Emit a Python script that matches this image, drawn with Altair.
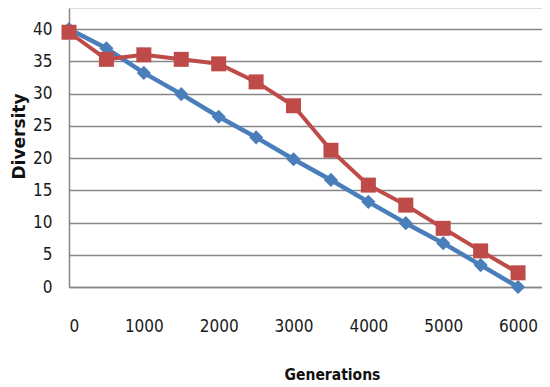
import altair as alt
import pandas as pd

generations = [0, 500, 1000, 1500, 2000, 2500, 3000, 3500, 4000, 4500, 5000, 5500, 6000]
series_a = [40.0, 37.0, 33.2, 29.9, 26.4, 23.2, 19.8, 16.6, 13.2, 9.9, 6.8, 3.4, 0.0]
series_b = [39.5, 35.3, 36.0, 35.3, 34.6, 31.8, 28.1, 21.2, 15.8, 12.7, 9.1, 5.6, 2.2]
names = ["Series A", "Series B"]
colors = ["#4A7EBB", "#BE4B48"]
shapes = ["diamond", "square"]
x_ticks = [0, 1000, 2000, 3000, 4000, 5000, 6000]
y_ticks = [0, 5, 10, 15, 20, 25, 30, 35, 40]

rows = []
for i, g in enumerate(generations):
    rows.append({"Generations": g, "Diversity": series_a[i], "series": names[0]})
for i, g in enumerate(generations):
    rows.append({"Generations": g, "Diversity": series_b[i], "series": names[1]})
df = pd.DataFrame(rows)

LF = "DejaVu Sans Condensed"

x = alt.X("Generations:Q",
          scale=alt.Scale(domain=[0, 6320], nice=False, zero=False),
          axis=alt.Axis(values=x_ticks, format="d", grid=False, ticks=False, labelPadding=31,
                        labelFont=LF, labelFontSize=17, labelColor="#1a1a1a",
                        domainColor="#868686", domainWidth=1.5,
                        title="Generations", titleFont=LF, titleFontSize=15.5,
                        titleFontWeight="bold", titleColor="#111111",
                        titleX=263, titleY=92, titleAlign="center",
                        titleBaseline="alphabetic"))
y = alt.Y("Diversity:Q",
          scale=alt.Scale(domain=[0, 43.26], nice=False),
          axis=alt.Axis(values=y_ticks, grid=True, gridColor="#868686", gridWidth=1.5,
                        ticks=False, labelPadding=17,
                        labelFont=LF, labelFontSize=17, labelColor="#1a1a1a",
                        domainColor="#868686", domainWidth=1.5,
                        title="Diversity", titleFont="DejaVu Sans", titleFontSize=17,
                        titleFontWeight="bold", titleColor="#111111",
                        titleX=-45, titleY=128, titleAngle=270, titleAlign="center",
                        titleBaseline="alphabetic"))

color = alt.Color("series:N", scale=alt.Scale(domain=names, range=colors), legend=None)
shape = alt.Shape("series:N", scale=alt.Scale(domain=names, range=shapes), legend=None)

layers = []
for idx, nm in enumerate(names):
    sub = alt.Chart(df).transform_filter(alt.datum.series == nm)
    line = sub.mark_line(strokeWidth=4.5 if idx == 0 else 4, strokeJoin="round").encode(
        x=x, y=y, color=color)
    pts = sub.mark_point(filled=True, opacity=1, size=200 if idx == 0 else 225).encode(
        x=x, y=y, color=color, shape=shape)
    layers += [line, pts]

chart = alt.layer(*layers).properties(
    width=473, height=279,
    autosize=alt.AutoSizeParams(type="none"),
    padding={"left": 61, "top": 0, "right": 0, "bottom": 98},
).configure_view(stroke=None).configure(background="white")

chart.save("out.html", embed_options={"renderer": "svg", "actions": False})
